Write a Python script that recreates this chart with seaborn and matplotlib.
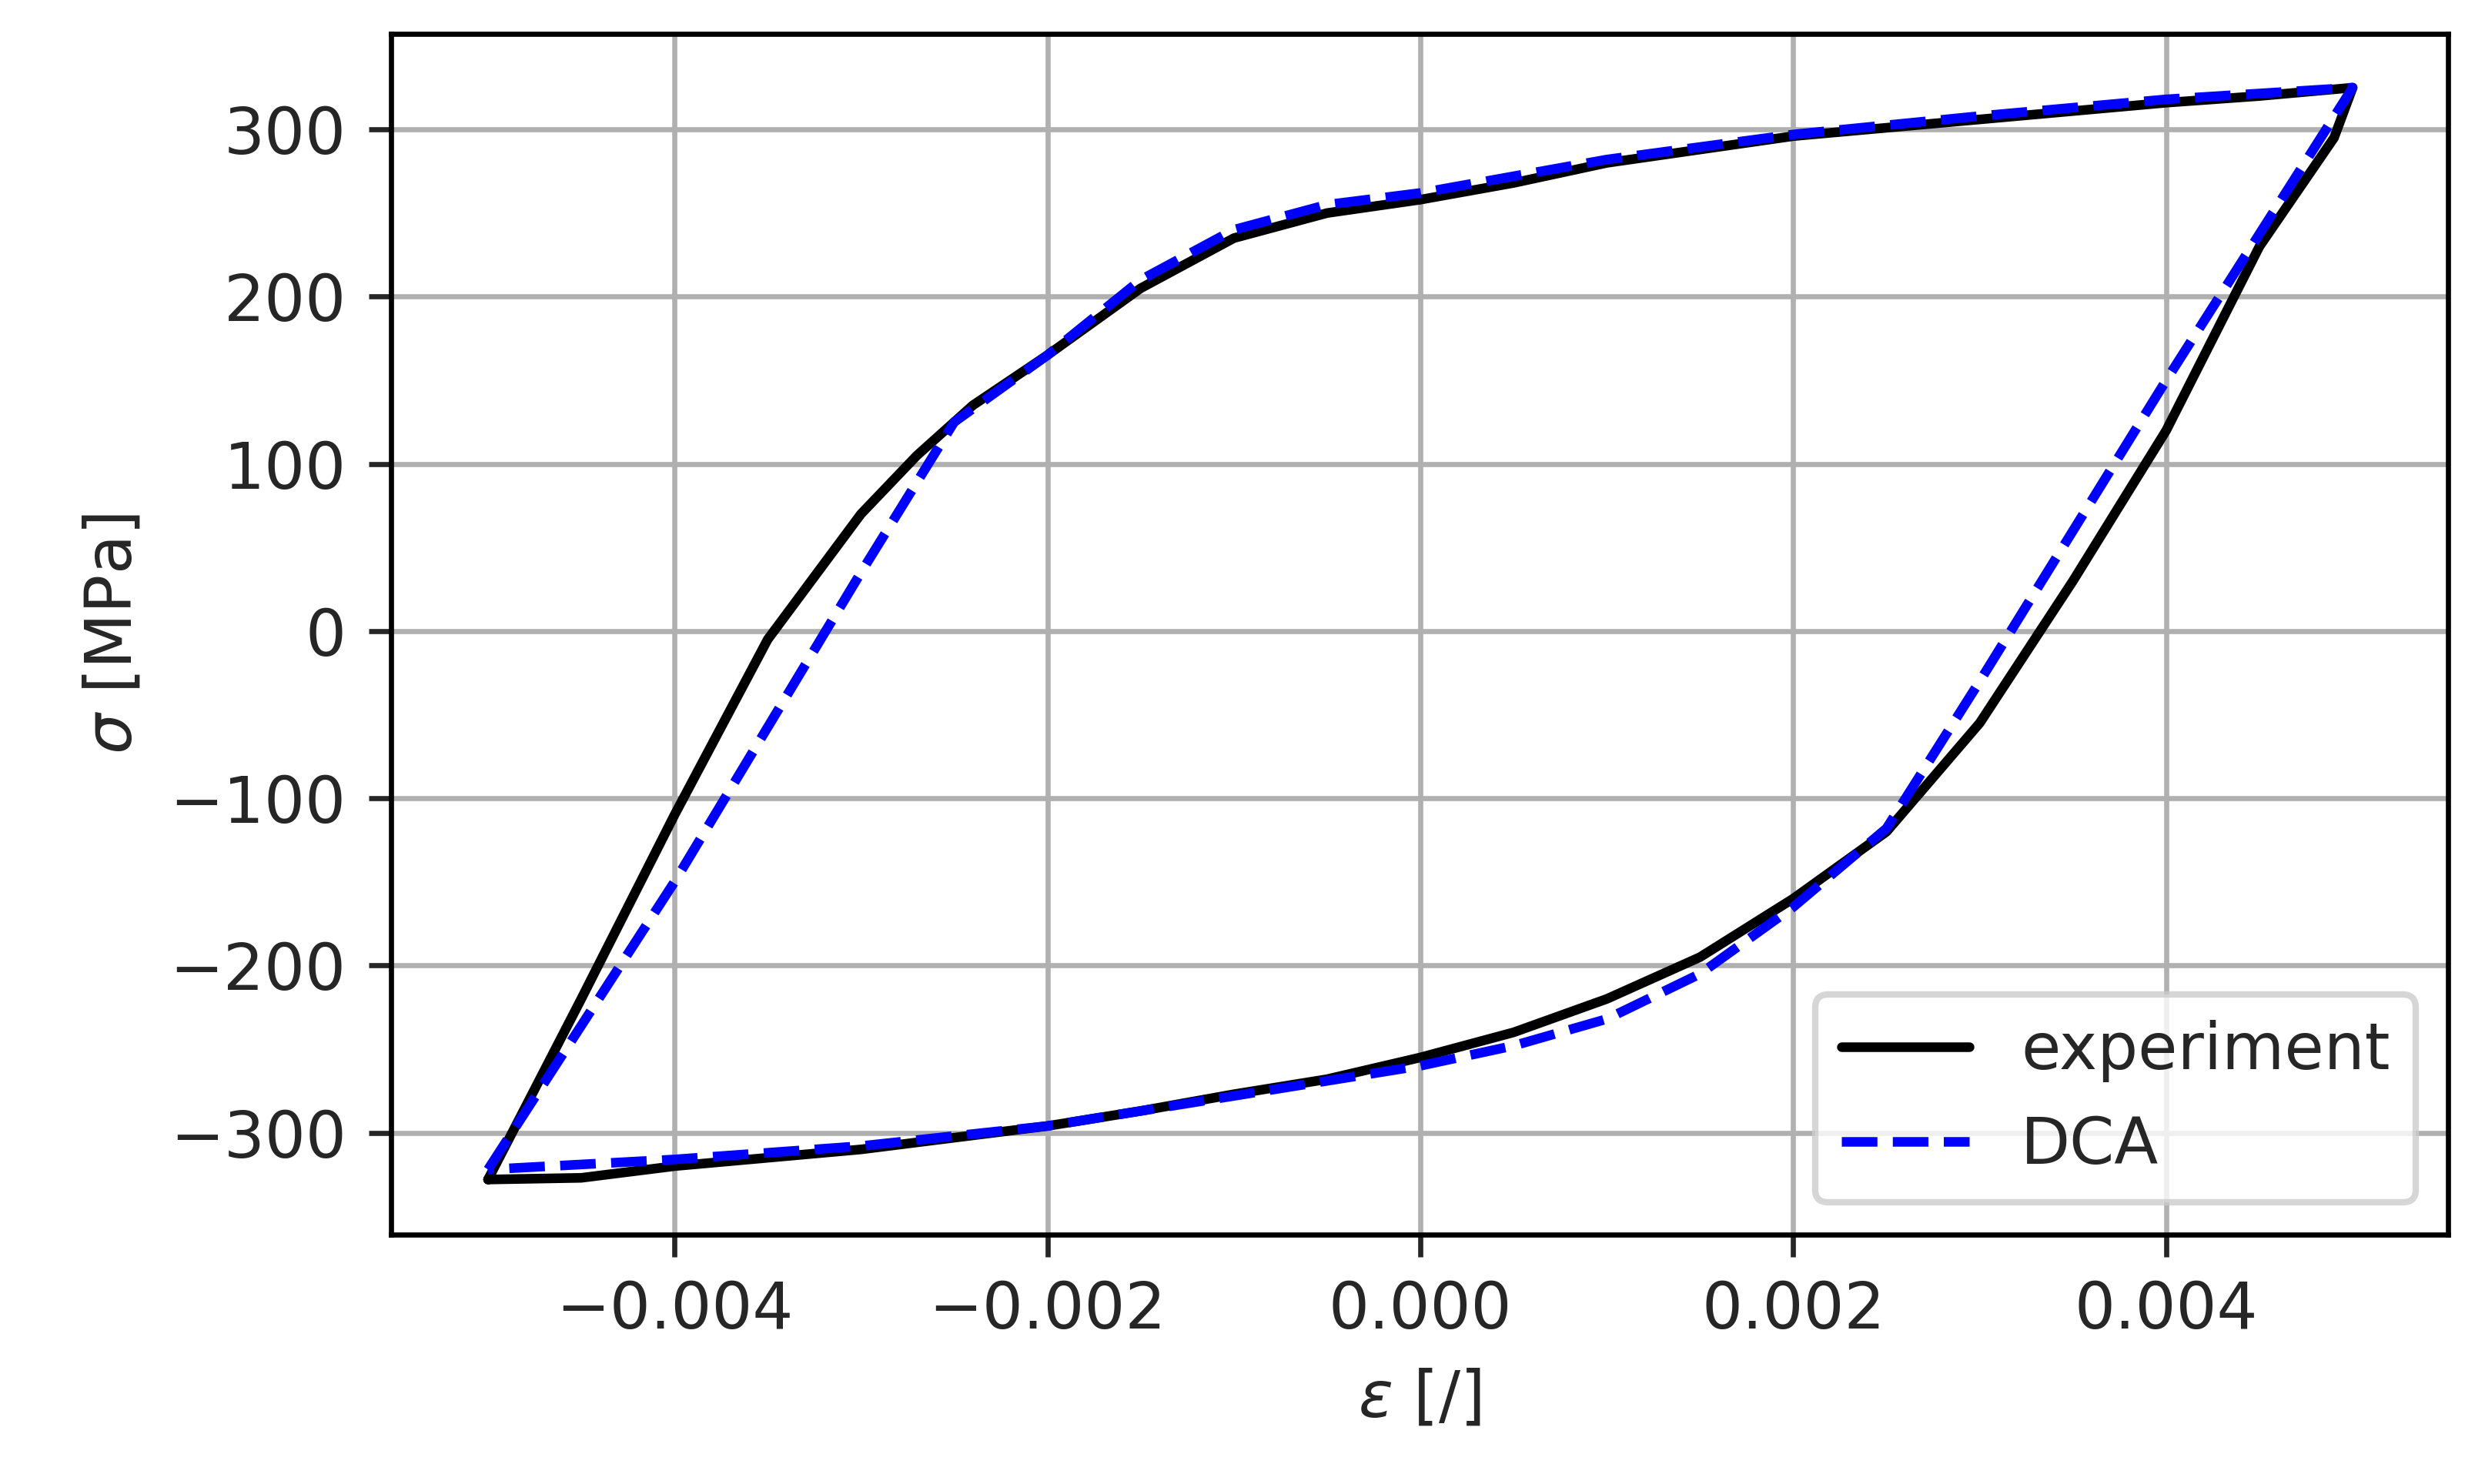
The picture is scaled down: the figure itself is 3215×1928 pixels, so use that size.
import matplotlib
matplotlib.use("Agg")
import matplotlib.pyplot as plt
import seaborn as sns
import pandas as pd

exp_strain = [-0.005, -0.0045, -0.004, -0.0035, -0.003, -0.0027, -0.0024, -0.002, -0.0015, -0.001, -0.0005, 0.0, 0.0005, 0.001, 0.0015, 0.002, 0.003, 0.004, 0.0045, 0.005,
              0.0049, 0.0045, 0.004, 0.0035, 0.003, 0.0025, 0.002, 0.0015, 0.001, 0.0005, 0.0, -0.0005, -0.001, -0.0015, -0.002, -0.003, -0.004, -0.0045, -0.005]
exp_stress = [-328, -220, -110, -5, 70, 105, 135, 165, 205, 235, 250, 258, 268, 280, 288, 296, 306, 316, 320, 325,
              295, 230, 120, 30, -55, -120, -160, -195, -220, -240, -255, -268, -277, -287, -296, -310, -320, -327, -328]
dca_strain = [-0.005, -0.004, -0.003, -0.0025, -0.002, -0.0015, -0.001, -0.0005, 0.0, 0.001, 0.002, 0.003, 0.004, 0.005,
              0.004, 0.003, 0.0025, 0.002, 0.0015, 0.001, 0.0005, 0.0, -0.001, -0.002, -0.003, -0.004, -0.005]
dca_stress = [-322, -150, 35, 125, 165, 210, 240, 255, 262, 282, 297, 308, 318, 325,
              150, -30, -118, -165, -205, -232, -248, -260, -278, -296, -308, -316, -322]

sns.set_style("ticks")
plt.rcParams['font.family'] = ['DejaVu Sans']
fig = plt.figure(figsize=(3215/600, 1928/600), dpi=600)
ax = fig.add_axes([0.158, 0.168, 0.831, 0.809])
df_e = pd.DataFrame({"x": exp_strain, "y": exp_stress})
df_d = pd.DataFrame({"x": dca_strain, "y": dca_stress})
sns.lineplot(data=df_e, x="x", y="y", sort=False, estimator=None, color="black", lw=1.5, label="experiment", ax=ax)
sns.lineplot(data=df_d, x="x", y="y", sort=False, estimator=None, color="blue", lw=1.5, ls="--", label="DCA", ax=ax)
ax.set_xlim(-0.00552, 0.00551)
ax.set_ylim(-361, 357)
ax.set_xticks([-0.004, -0.002, 0.0, 0.002, 0.004])
ax.set_xticklabels(["\u22120.004", "\u22120.002", "0.000", "0.002", "0.004"])
ax.set_yticks([-300, -200, -100, 0, 100, 200, 300])
ax.grid(True, color="#b0b0b0", lw=0.8)
for s in ax.spines.values():
    s.set_visible(True); s.set_linewidth(0.8); s.set_color("black")
ax.tick_params(direction="out", length=3.5, width=0.8, labelsize=10)
ax.set_xlabel(r"$\varepsilon$ [/]", fontsize=10)
ax.set_ylabel(r"$\sigma$ [MPa]", fontsize=10)
ax.legend(loc="lower right", fontsize=10)
fig.savefig("out.png", dpi=600)
